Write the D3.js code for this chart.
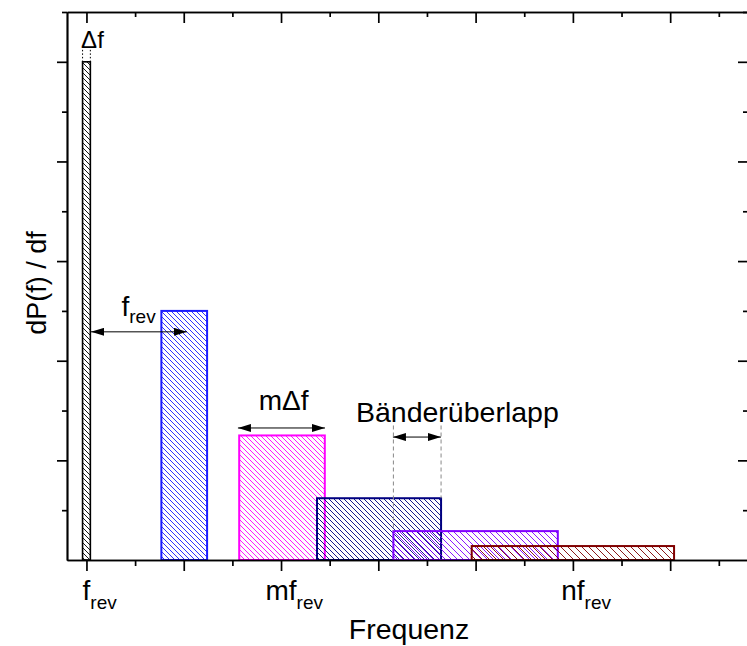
<!DOCTYPE html>
<html lang="de">
<head>
<meta charset="UTF-8">
<title>Bänderüberlapp</title>
<style>
  body { margin: 0; background: #fff; }
  svg { display: block; font-family: 'Liberation Sans', Arial, sans-serif; }
  .axis path, .axis line { stroke: #000; stroke-width: 1.7px; }
</style>
</head>
<body>
<div id="chart"></div>
<script src="https://d3js.org/d3.v7.min.js"></script>
<script>
// bands (x in units of f_rev, height arbitrary)
const bandStart = [-0.04, 0.77, 1.57, 2.37, 3.155, 3.96];
const bandEnd = [0.04, 1.24, 2.45, 3.645, 4.845, 6.04];
const bandHeight = [5, 2.5, 1.25, 0.62, 0.29, 0.14];
const bandColors = ['#000000', '#1a1aff', '#ff00ff', '#000080', '#8000ff', '#800000'];
const hatchSpacing = [5, 5, 5, 5, 6, 7];

// ticks
const majorTicks = [0, 1, 2, 3, 4, 5, 6];
const minorTicks = [0.5, 1.5, 2.5, 3.5, 4.5, 5.5, 6.5];
const yMajorTicks = [1, 2, 3, 4, 5];
const yMinorTicks = [0.5, 1.5, 2.5, 3.5, 4.5, 5.5];
const tickAt = [0, 2, 5];
const tickMain = ['f', 'mf', 'nf'];
const tickSub = ['rev', 'rev', 'rev'];

// arrows
const arrowStart = [0.047, 1.557, 3.15];
const arrowEnd = [1.033, 2.452, 3.644];
const arrowY = [2.29, 1.325, 1.234];

const width = 747, height = 646;
const plotLeft = 67, plotRight = 748, plotTop = 12, plotBottom = 560;

const x = d3.scaleLinear().domain([-0.2, 6.8]).range([plotLeft, plotRight]);
const y = d3.scaleLinear().domain([0, 5.5]).range([plotBottom, plotTop]);

const svg = d3.select('#chart').append('svg')
  .attr('width', width)
  .attr('height', height);

const defs = svg.append('defs');

bandColors.forEach((c, i) => {
  const s = hatchSpacing[i];
  defs.append('pattern')
    .attr('id', 'hatch' + i)
    .attr('patternUnits', 'userSpaceOnUse')
    .attr('width', s)
    .attr('height', s)
    .append('path')
    .attr('d', `M0,0L${s},${s}M${-1},${s - 1}L1,${s + 1}M${s - 1},-1L${s + 1},1`)
    .attr('stroke', c)
    .attr('stroke-width', 0.9)
    .attr('fill', 'none');
});

defs.append('marker')
  .attr('id', 'head')
  .attr('viewBox', '0 0 13 8')
  .attr('refX', 13)
  .attr('refY', 4)
  .attr('markerWidth', 13)
  .attr('markerHeight', 8)
  .attr('markerUnits', 'userSpaceOnUse')
  .attr('orient', 'auto-start-reverse')
  .append('path')
  .attr('d', 'M0,0L13,4L0,8Z')
  .attr('fill', '#000');

// bars
svg.append('g')
  .selectAll('rect')
  .data(bandHeight)
  .join('rect')
  .attr('x', (d, i) => x(bandStart[i]))
  .attr('y', d => y(d))
  .attr('width', (d, i) => x(bandEnd[i]) - x(bandStart[i]))
  .attr('height', d => y(0) - y(d))
  .attr('fill', (d, i) => `url(#hatch${i})`)
  .attr('stroke', (d, i) => bandColors[i])
  .attr('stroke-width', (d, i) => i === 0 ? 1.6 : 2);

// axes
const axis = (gen, tr) => svg.append('g').attr('class', 'axis').attr('transform', tr).call(gen);

axis(d3.axisBottom(x).tickValues(majorTicks).tickSize(11).tickSizeOuter(0).tickFormat(''), `translate(0,${plotBottom})`);
axis(d3.axisBottom(x).tickValues(minorTicks).tickSize(6).tickSizeOuter(0).tickFormat(''), `translate(0,${plotBottom})`);
axis(d3.axisTop(x).tickValues(majorTicks).tickSize(-11).tickSizeOuter(0).tickFormat(''), `translate(0,${plotTop})`);
axis(d3.axisTop(x).tickValues(minorTicks).tickSize(-5).tickSizeOuter(0).tickFormat(''), `translate(0,${plotTop})`);
axis(d3.axisLeft(y).tickValues(yMajorTicks).tickSize(10).tickSizeOuter(0).tickFormat(''), `translate(${plotLeft},0)`);
axis(d3.axisLeft(y).tickValues(yMinorTicks).tickSize(5).tickSizeOuter(0).tickFormat(''), `translate(${plotLeft},0)`);
axis(d3.axisRight(y).tickValues(yMajorTicks).tickSize(-10).tickSizeOuter(0).tickFormat(''), `translate(${plotRight},0)`);
axis(d3.axisRight(y).tickValues(yMinorTicks).tickSize(-5).tickSizeOuter(0).tickFormat(''), `translate(${plotRight},0)`);

// tick labels with subscripts, main part centred on the tick
tickAt.forEach((t, i) => {
  const txt = svg.append('text')
    .attr('y', plotBottom + 40)
    .attr('font-size', 28);
  const main = txt.append('tspan').text(tickMain[i]);
  const w = main.node().getComputedTextLength();
  txt.attr('x', x(t) - w / 2);
  txt.append('tspan').attr('font-size', 19).attr('dy', 9).text(tickSub[i]);
});

// axis titles
svg.append('text')
  .attr('x', 409)
  .attr('y', 639)
  .attr('text-anchor', 'middle')
  .attr('font-size', 28.5)
  .text('Frequenz');

svg.append('text')
  .attr('transform', 'translate(46,283) rotate(-90)')
  .attr('text-anchor', 'middle')
  .attr('font-size', 27)
  .text('dP(f) / df');

// arrows
svg.append('g')
  .selectAll('line')
  .data(arrowY)
  .join('line')
  .attr('x1', (d, i) => x(arrowStart[i]))
  .attr('x2', (d, i) => x(arrowEnd[i]))
  .attr('y1', d => y(d))
  .attr('y2', d => y(d))
  .attr('stroke', '#000')
  .attr('stroke-width', 1)
  .attr('marker-start', 'url(#head)')
  .attr('marker-end', 'url(#head)');

// dashed guides for the overlap
[[3.155, 0.29], [3.645, 0.62]].forEach(([gx, gy]) => {
  svg.append('line')
    .attr('x1', x(gx)).attr('x2', x(gx))
    .attr('y1', y(1.35)).attr('y2', y(gy))
    .attr('stroke', '#888')
    .attr('stroke-width', 1)
    .attr('stroke-dasharray', '4,3');
});

// dotted guides for delta f
[-0.04, 0.04].forEach(gx => {
  svg.append('line')
    .attr('x1', x(gx)).attr('x2', x(gx))
    .attr('y1', y(5.12)).attr('y2', y(5.01))
    .attr('stroke', '#000')
    .attr('stroke-width', 1)
    .attr('stroke-dasharray', '1.5,2');
});

// annotation texts
const fr = svg.append('text').attr('x', x(0.36)).attr('y', y(2.45)).attr('font-size', 28);
fr.append('tspan').text('f');
fr.append('tspan').attr('font-size', 19).attr('dy', 7).text('rev');

svg.append('text').attr('x', x(1.77)).attr('y', y(1.505)).attr('font-size', 28).text('mΔf');
svg.append('text').attr('x', x(2.77)).attr('y', y(1.39)).attr('font-size', 28.5).text('Bänderüberlapp');
svg.append('text').attr('x', x(-0.055)).attr('y', y(5.14)).attr('font-size', 24).text('Δf');
</script>
</body>
</html>
